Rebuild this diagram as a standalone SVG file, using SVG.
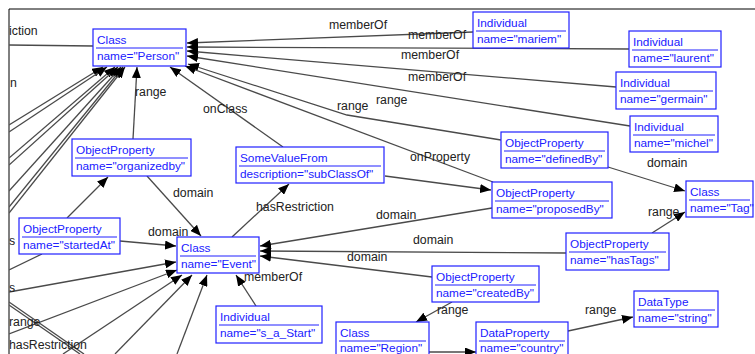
<svg xmlns="http://www.w3.org/2000/svg" width="755" height="354" viewBox="0 0 755 354">
<defs>
<style>
.nb{fill:#fff;stroke:#2020ff;stroke-width:1.2}
.nt{font-family:"Liberation Sans",Arial,sans-serif;font-size:11.8px;fill:#2020ff}
.sep{stroke:#2020ff;stroke-width:1}
.ln{fill:none;stroke:#4a4a4a;stroke-width:1.3}
.ar{marker-end:url(#ah)}
.lb{font-family:"Liberation Sans",Arial,sans-serif;font-size:12.3px;fill:#222}
</style>
<marker id="ah" markerUnits="userSpaceOnUse" markerWidth="11" markerHeight="9" refX="11" refY="4.5" orient="auto"><path d="M0,0 L11,4.5 L0,9 z" fill="#000"/></marker>
<clipPath id="frame"><rect x="9.5" y="9.5" width="746" height="345"/></clipPath>
</defs>
<rect width="755" height="354" fill="#fff"/>
<g id="connectors" clip-path="url(#frame)">
<line class="ln" x1="9" y1="45" x2="93" y2="46"/>
<line class="ln ar" x1="473" y1="32" x2="187" y2="43"/>
<line class="ln ar" x1="629" y1="49" x2="187" y2="47"/>
<line class="ln ar" x1="616" y1="87" x2="187" y2="51"/>
<line class="ln ar" x1="630" y1="126" x2="187" y2="56"/>
<polyline class="ln ar" points="501,140 347,115 188,64"/>
<line class="ln ar" x1="493" y1="182" x2="185" y2="66"/>
<line class="ln ar" x1="283" y1="147" x2="170" y2="67"/>
<line class="ln ar" x1="133" y1="139" x2="137" y2="67"/>
<line class="ln ar" x1="9" y1="125" x2="103" y2="67"/>
<line class="ln ar" x1="9" y1="132" x2="107" y2="67"/>
<line class="ln ar" x1="9" y1="158" x2="115" y2="67"/>
<line class="ln ar" x1="9" y1="165" x2="118" y2="67"/>
<line class="ln ar" x1="9" y1="191" x2="121" y2="67"/>
<line class="ln ar" x1="9" y1="207" x2="123" y2="67"/>
<line class="ln ar" x1="9" y1="213" x2="125" y2="67"/>
<line class="ln ar" x1="67" y1="218" x2="108" y2="177"/>
<line class="ln ar" x1="120" y1="241" x2="176" y2="246"/>
<line class="ln ar" x1="147" y1="176" x2="201" y2="236"/>
<line class="ln" x1="9" y1="270" x2="42" y2="254"/>
<line class="ln" x1="9" y1="302" x2="84" y2="354"/>
<line class="ln" x1="9" y1="305" x2="80" y2="354"/>
<line class="ln ar" x1="9" y1="292" x2="176" y2="262"/>
<line class="ln ar" x1="9" y1="334" x2="177" y2="270"/>
<line class="ln ar" x1="63" y1="354" x2="182" y2="275"/>
<line class="ln ar" x1="115" y1="354" x2="192" y2="275"/>
<line class="ln ar" x1="177" y1="354" x2="207" y2="275"/>
<line class="ln ar" x1="232" y1="237" x2="289" y2="184"/>
<line class="ln ar" x1="492" y1="208" x2="260" y2="246"/>
<line class="ln ar" x1="566" y1="253" x2="260" y2="251"/>
<line class="ln ar" x1="432" y1="277" x2="260" y2="256"/>
<line class="ln ar" x1="256" y1="306" x2="236" y2="275"/>
<line class="ln ar" x1="385" y1="176" x2="491" y2="190"/>
<line class="ln ar" x1="608" y1="167" x2="685" y2="191"/>
<line class="ln ar" x1="652" y1="233" x2="685" y2="212"/>
<line class="ln ar" x1="452" y1="302" x2="416" y2="322"/>
<line class="ln ar" x1="568" y1="331" x2="633" y2="317"/>
<line class="ln ar" x1="429" y1="352" x2="476" y2="352"/>
</g>
<g id="labels" clip-path="url(#frame)">
<text class="lb" x="9" y="35">iction</text>
<text class="lb" x="329" y="29">memberOf</text>
<text class="lb" x="408" y="39">memberOf</text>
<text class="lb" x="401" y="59">memberOf</text>
<text class="lb" x="408" y="81">memberOf</text>
<text class="lb" x="10" y="87">n</text>
<text class="lb" x="135" y="96">range</text>
<text class="lb" x="203" y="113">onClass</text>
<text class="lb" x="337" y="110">range</text>
<text class="lb" x="376" y="104">range</text>
<text class="lb" x="410" y="161">onProperty</text>
<text class="lb" x="647" y="167">domain</text>
<text class="lb" x="173" y="197">domain</text>
<text class="lb" x="256" y="211">hasRestriction</text>
<text class="lb" x="376" y="219">domain</text>
<text class="lb" x="148" y="236">domain</text>
<text class="lb" x="648" y="216">range</text>
<text class="lb" x="413" y="244">domain</text>
<text class="lb" x="9" y="245">s</text>
<text class="lb" x="347" y="261">domain</text>
<text class="lb" x="244" y="281">memberOf</text>
<text class="lb" x="9" y="292">s</text>
<text class="lb" x="437" y="314">range</text>
<text class="lb" x="585" y="314">range</text>
<text class="lb" x="9" y="326">range</text>
<text class="lb" x="9" y="349">hasRestriction</text>
</g>
<g id="n-person"><rect class="nb" x="93" y="29" width="93" height="37"/><text class="nt" x="97" y="44">Class</text><line class="sep" x1="96" y1="48" x2="183" y2="48"/><text class="nt" x="97" y="60">name="Person"</text></g>
<g id="n-mariem"><rect class="nb" x="473" y="12" width="96" height="36"/><text class="nt" x="477" y="27">Individual</text><line class="sep" x1="476" y1="31" x2="566" y2="31"/><text class="nt" x="477" y="43">name="mariem"</text></g>
<g id="n-laurent"><rect class="nb" x="629" y="31" width="92" height="36"/><text class="nt" x="633" y="46">Individual</text><line class="sep" x1="632" y1="50" x2="718" y2="50"/><text class="nt" x="633" y="62">name="laurent"</text></g>
<g id="n-germain"><rect class="nb" x="616" y="72" width="100" height="37"/><text class="nt" x="620" y="87">Individual</text><line class="sep" x1="619" y1="91" x2="713" y2="91"/><text class="nt" x="620" y="103">name="germain"</text></g>
<g id="n-michel"><rect class="nb" x="630" y="116" width="88" height="36"/><text class="nt" x="634" y="131">Individual</text><line class="sep" x1="633" y1="135" x2="715" y2="135"/><text class="nt" x="634" y="147">name="michel"</text></g>
<g id="n-definedby"><rect class="nb" x="501" y="132" width="107" height="36"/><text class="nt" x="505" y="147">ObjectProperty</text><line class="sep" x1="504" y1="151" x2="605" y2="151"/><text class="nt" x="505" y="163">name="definedBy"</text></g>
<g id="n-tag"><rect class="nb" x="686" y="181" width="67" height="36"/><text class="nt" x="690" y="196">Class</text><line class="sep" x1="689" y1="200" x2="750" y2="200"/><text class="nt" x="690" y="212">name="Tag"</text></g>
<g id="n-proposedby"><rect class="nb" x="492" y="182" width="120" height="36"/><text class="nt" x="496" y="197">ObjectProperty</text><line class="sep" x1="495" y1="201" x2="609" y2="201"/><text class="nt" x="496" y="213">name="proposedBy"</text></g>
<g id="n-hastags"><rect class="nb" x="566" y="233" width="103" height="37"/><text class="nt" x="570" y="248">ObjectProperty</text><line class="sep" x1="569" y1="252" x2="666" y2="252"/><text class="nt" x="570" y="264">name="hasTags"</text></g>
<g id="n-createdby"><rect class="nb" x="432" y="266" width="107" height="36"/><text class="nt" x="436" y="281">ObjectProperty</text><line class="sep" x1="435" y1="285" x2="536" y2="285"/><text class="nt" x="436" y="297">name="createdBy"</text></g>
<g id="n-string"><rect class="nb" x="634" y="291" width="84" height="36"/><text class="nt" x="638" y="306">DataType</text><line class="sep" x1="637" y1="310" x2="715" y2="310"/><text class="nt" x="638" y="322">name="string"</text></g>
<g id="n-country"><rect class="nb" x="476" y="322" width="92" height="40"/><text class="nt" x="480" y="337">DataProperty</text><line class="sep" x1="479" y1="341" x2="565" y2="341"/><text class="nt" x="480" y="352">name="country"</text></g>
<g id="n-region"><rect class="nb" x="336" y="322" width="93" height="40"/><text class="nt" x="340" y="337">Class</text><line class="sep" x1="339" y1="341" x2="426" y2="341"/><text class="nt" x="340" y="352">name="Region"</text></g>
<g id="n-sastart"><rect class="nb" x="216" y="306" width="106" height="37"/><text class="nt" x="220" y="321">Individual</text><line class="sep" x1="219" y1="325" x2="319" y2="325"/><text class="nt" x="220" y="337">name="s_a_Start"</text></g>
<g id="n-event"><rect class="nb" x="177" y="237" width="82" height="36"/><text class="nt" x="181" y="252">Class</text><line class="sep" x1="180" y1="256" x2="256" y2="256"/><text class="nt" x="181" y="268">name="Event"</text></g>
<g id="n-startedat"><rect class="nb" x="19" y="218" width="101" height="36"/><text class="nt" x="23" y="233">ObjectProperty</text><line class="sep" x1="22" y1="237" x2="117" y2="237"/><text class="nt" x="23" y="249">name="startedAt"</text></g>
<g id="n-organizedby"><rect class="nb" x="72" y="139" width="119" height="37"/><text class="nt" x="76" y="154">ObjectProperty</text><line class="sep" x1="75" y1="158" x2="188" y2="158"/><text class="nt" x="76" y="170">name="organizedby"</text></g>
<g id="n-somevaluefrom"><rect class="nb" x="236" y="147" width="148" height="36"/><text class="nt" x="240" y="162">SomeValueFrom</text><line class="sep" x1="239" y1="166" x2="381" y2="166"/><text class="nt" x="240" y="178">description="subClassOf"</text></g>
<g id="frame-lines"><line x1="9" y1="9" x2="755" y2="9" stroke="#000" stroke-width="1"/><line x1="9" y1="9" x2="9" y2="354" stroke="#000" stroke-width="1"/></g>
</svg>
